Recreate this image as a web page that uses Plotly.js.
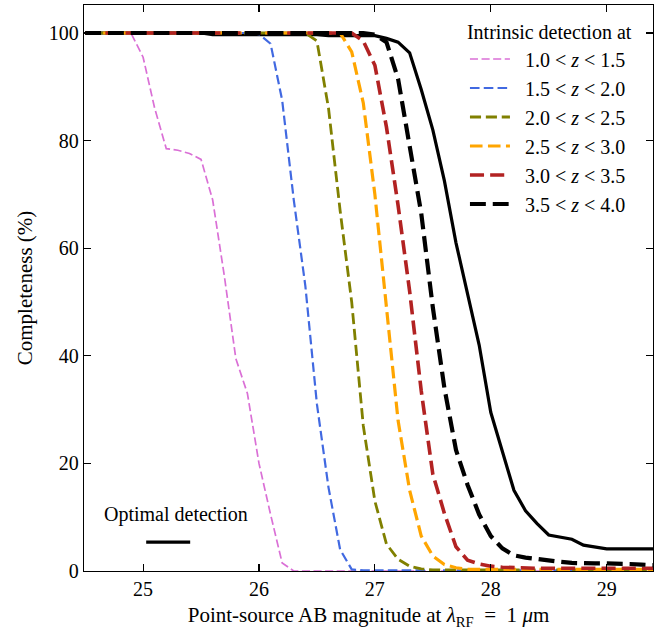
<!DOCTYPE html>
<html>
<head>
<meta charset="utf-8">
<script src="https://cdn.plot.ly/plotly-3.0.1.min.js"></script>
<style>html,body{margin:0;padding:0;background:#fff;}#chart{width:671px;height:635px;}</style>
</head>
<body>
<div id="chart"></div>
<script>
// Point-source AB magnitude grid
const mag = [24.5,24.6,24.7,24.8,24.9,25.0,25.1,25.2,25.3,25.4,
             25.5,25.6,25.7,25.8,25.9,26.0,26.1,26.2,26.3,26.4,
             26.5,26.6,26.7,26.8,26.9,27.0,27.1,27.2,27.3,27.4,
             27.5,27.6,27.7,27.8,27.9,28.0,28.1,28.2,28.3,28.4,
             28.5,28.6,28.7,28.8,28.9,29.0,29.1,29.2,29.3,29.4];

// Completeness (%) for intrinsic detection in redshift bins
const z10_15 = [100,100,100,100,99.8,95.5,86,78.5,78.2,77.6,
                76.5,69,55,39.5,33,20,10.5,1.5,0,0,
                0,0,0,0,0,0,0,0,0,0,
                0,0,0,0,0,0,0,0,0,0,
                0,0,0,0,0,0,0,0,0,0];
const z15_20 = [100,100,100,100,100,100,100,100,100,100,
                100,100,100,100,100,99.8,98,87.5,69,53,
                31,15.5,4,0.3,0.1,0.1,0.1,0.1,0.1,0.1,
                0.1,0.1,0.1,0.1,0.1,0.1,0.1,0.1,0.1,0.1,
                0.1,0.1,0.1,0.1,0.1,0.1,0.1,0.1,0.1,0.1];
const z20_25 = [100,100,100,100,100,100,100,100,100,100,
                100,100,100,100,100,100,100,100,100,100,
                98.5,86,67,50,27,13,5,2.2,0.9,0.4,
                0.2,0.2,0.2,0.2,0.2,0.2,0.2,0.2,0.2,0.2,
                0.2,0.2,0.2,0.2,0.2,0.2,0.2,0.2,0.2,0.2];
const z25_30 = [100,100,100,100,100,100,100,100,100,100,
                100,100,100,100,100,100,100,100,100,100,
                100,100,100,96.5,87,70,49,28,15,6.5,
                2.8,1.2,0.6,0.3,0.3,0.3,0.3,0.3,0.3,0.3,
                0.3,0.3,0.3,0.3,0.3,0.3,0.3,0.3,0.3,0.3];
const z30_35 = [100,100,100,100,100,100,100,100,100,100,
                100,100,100,100,100,100,100,100,100,100,
                100,100,100,100,98.5,94,82.5,68,52,33.5,
                18,10.7,4.5,2,1.3,0.9,0.7,0.6,0.5,0.5,
                0.5,0.5,0.5,0.5,0.5,0.5,0.5,0.5,0.5,0.5];
const z35_40 = [100,100,100,100,100,100,100,100,100,100,
                100,100,100,100,100,100,100,100,100,100,
                100,100,100,100,100,99.7,98.3,91.5,79,66.5,
                49,34,22.5,16,10.5,6.5,4.2,2.9,2.5,2.2,
                1.9,1.7,1.5,1.4,1.4,1.4,1.4,1.3,1.2,1.1];
// Optimal detection
const optimal = [100,100,100,100,100,100,100,100,100,100,
                 100,99.7,99.7,99.7,99.7,99.7,99.7,99.7,99.7,99.7,
                 99.7,99.5,99.5,99.5,99.5,99.5,99,98.3,96.3,89.5,
                 82,72.5,61,51.3,42,29.5,22.5,15,11.2,8.8,
                 6.7,6.3,5.9,4.8,4.4,4.1,4.1,4.1,4.1,4.1];

const binLabels = ['1.0 &lt; <i>z</i> &lt; 1.5','1.5 &lt; <i>z</i> &lt; 2.0','2.0 &lt; <i>z</i> &lt; 2.5',
                   '2.5 &lt; <i>z</i> &lt; 3.0','3.0 &lt; <i>z</i> &lt; 3.5','3.5 &lt; <i>z</i> &lt; 4.0'];
const binSeries = [z10_15, z15_20, z20_25, z25_30, z30_35, z35_40];
const binColors = ['#da70d6','#4169e1','#808000','#ffa500','#b22222','#000000'];
const binWidths = [1.7, 2.2, 2.8, 3.2, 3.6, 4.2];
const dashBase  = [2.2, 2.6, 3.0, 3.4, 3.8, 4.3];

const FONT = 'Liberation Serif';

const traces = [{
  x: mag, y: optimal, type: 'scatter', mode: 'lines',
  name: ' ', legend: 'legend2',
  line: {color: '#000000', width: 3.2}
}];
binSeries.forEach((s, i) => {
  const d = dashBase[i];
  traces.push({
    x: mag, y: s, type: 'scatter', mode: 'lines', name: '&nbsp;&nbsp;' + binLabels[i],
    line: {color: binColors[i], width: binWidths[i],
           dash: (3.7*d).toFixed(1) + 'px,' + (1.6*d).toFixed(1) + 'px'}
  });
});

const layout = {
  width: 671, height: 635,
  margin: {l: 84, r: 18, t: 5, b: 64},
  paper_bgcolor: '#ffffff', plot_bgcolor: '#ffffff',
  font: {family: FONT, size: 20, color: '#000000'},
  showlegend: true,
  xaxis: {
    range: [24.49, 29.4], tickvals: [25,26,27,28,29], ticktext: ['25','26','27','28','29'],
    ticks: 'inside', ticklen: 7, tickwidth: 1.2, tickcolor: '#000',
    showline: true, linecolor: '#000', linewidth: 1.3, mirror: 'ticks',
    showgrid: false, zeroline: false,
    tickfont: {family: FONT, size: 20},
    title: {text: 'Point-source AB magnitude at <i>λ</i><sub>RF</sub>&nbsp;&nbsp;=&nbsp;&nbsp;1&nbsp;<i>μ</i>m',
            font: {family: FONT, size: 21}, standoff: 8}
  },
  yaxis: {
    range: [0, 105.2], tickvals: [0,20,40,60,80,100],
    ticks: 'inside', ticklen: 7, tickwidth: 1.2, tickcolor: '#000',
    showline: true, linecolor: '#000', linewidth: 1.3, mirror: 'ticks',
    showgrid: false, zeroline: false,
    tickfont: {family: FONT, size: 20},
    title: {text: 'Completeness (%)', font: {family: FONT, size: 21}, standoff: 10}
  },
  legend: {
    x: 0.6695, xanchor: 'left', y: 0.985, yanchor: 'top',
    bgcolor: 'rgba(0,0,0,0)', borderwidth: 0,
    font: {family: FONT, size: 20},
    title: {text: 'Intrinsic detection at', font: {family: FONT, size: 20}, side: 'top'},
    itemwidth: 40, traceorder: 'normal'
  },
  legend2: {
    x: 0.1005, xanchor: 'left', y: 0.051, yanchor: 'middle',
    bgcolor: 'rgba(0,0,0,0)', borderwidth: 0,
    font: {family: FONT, size: 20},
    itemwidth: 44
  },
  annotations: [{
    text: 'Optimal detection', xref: 'paper', yref: 'paper',
    x: 0.161, y: 0.1, xanchor: 'center', yanchor: 'middle', showarrow: false,
    font: {family: FONT, size: 20}
  }]
};

Plotly.newPlot('chart', traces, layout, {displayModeBar: false, staticPlot: true});
</script>
</body>
</html>
